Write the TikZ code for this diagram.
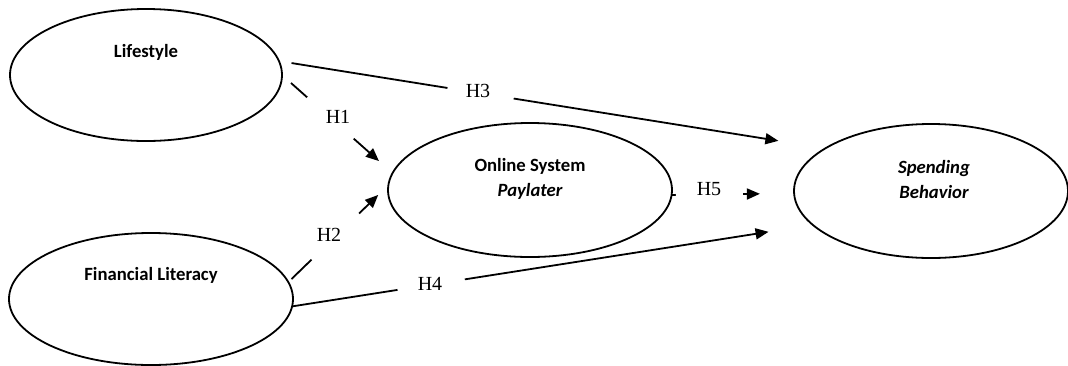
\documentclass[tikz,border=0pt]{standalone}
\usepackage{fontspec}
\setmainfont{Liberation Serif}
\newfontfamily\calibrifont{Carlito}
\usetikzlibrary{shapes.geometric,arrows.meta}
\begin{document}
\begin{tikzpicture}[x=1pt,y=-1pt,
  oval/.style={ellipse, draw, line width=1.8pt, inner sep=0pt, outer sep=0pt},
  conn/.style={line width=1.8pt, -{Triangle[length=13pt,width=11pt]}},
  gapnode/.style={sloped, fill=white, inner sep=0pt, minimum height=8pt},
  hyp/.style={font=\fontsize{20}{24}\selectfont, inner sep=0pt},
  ctext/.style={font=\calibrifont\bfseries\fontsize{18.7}{25.5}\selectfont, align=center, inner sep=0pt}
]
\useasboundingbox (0,0) rectangle (1068,365);
\fill[white] (0,0) rectangle (1068,365);

\node[oval, minimum width=272pt, minimum height=132pt,
  label={[ctext, name=lsT, yshift=23pt]center:Lifestyle}] (ls) at (146,75) {};
\node[oval, minimum width=284pt, minimum height=132pt,
  label={[ctext, name=flT, yshift=24pt]center:Financial Literacy}] (fl) at (151,299) {};
\node[oval, minimum width=284pt, minimum height=134pt,
  label={[ctext, name=osT, yshift=11pt]center:Online System\\\itshape Paylater}] (os) at (530,190) {};
\node[oval, minimum width=274pt, minimum height=134pt,
  label={[ctext, name=sbT, yshift=11.5pt, xshift=3pt]center:\itshape Spending\\\itshape Behavior}] (sb) at (931,191) {};

% connectors
\draw[conn, shorten <=12.8pt, shorten >=47.6pt] (ls.6.5) -- node[gapnode, pos=0.369, minimum width=67pt] {} (sb.158.2);
\draw[conn, shorten <=12pt, shorten >=18.2pt] (ls.-0.3) -- node[gapnode, pos=0.438, minimum width=62pt] {} (os.173.9);
\draw[conn, shorten <=4.5pt, shorten >=14.2pt] (fl.7.5) -- node[gapnode, pos=0.47, minimum width=66pt] {} (os.178.1);
\draw[conn, shorten >=44.8pt] (fl.-3.2) -- node[gapnode, pos=0.267, minimum width=68pt] {} (sb.196.7);
\draw[conn, shorten >=34.2pt] (os.-2.0) -- node[gapnode, pos=0.309, minimum width=67pt] {} (sb.181.7);

% hypothesis labels
\node[hyp] (h1) at (338,117) {H1};
\node[hyp] (h2) at (329,235) {H2};
\node[hyp] (h3) at (478,91) {H3};
\node[hyp] (h4) at (430,283.5) {H4};
\node[hyp] (h5) at (709,189) {H5};
\end{tikzpicture}
\end{document}
